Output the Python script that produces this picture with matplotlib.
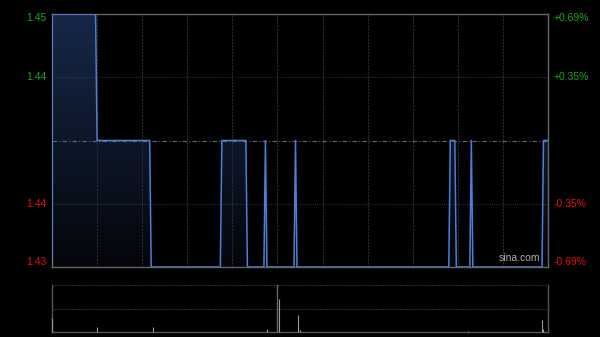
import numpy as np
import matplotlib
matplotlib.use("Agg")
import matplotlib.pyplot as plt
from matplotlib.colors import LinearSegmentedColormap

plt.rcParams['font.family'] = ['Liberation Sans', 'DejaVu Sans']

# intraday price runs: (first minute of run, price)
run_start = [0, 30, 66, 113, 130, 142, 143, 162, 163, 265, 269, 279, 280, 327]
run_price = [1.45, 1.44, 1.43, 1.44, 1.43, 1.44, 1.43, 1.44, 1.43, 1.44, 1.43, 1.44, 1.43, 1.44]
n_minutes = 331
prev_close = 1.44

# volume bars (minute, relative volume)
vol_minute = [0, 30, 67, 143, 151, 164, 165, 277, 326, 327]
vol_value = [29, 10, 10, 6, 70, 36, 5, 3, 25, 6]

left_labels = ["1.45", "1.44", "1.44", "1.43"]
left_levels = [1.45, 1.445, 1.435, 1.43]
right_labels = ["+0.69%", "+0.35%", "-0.35%", "-0.69%"]
label_colors = ["#1ea51e", "#1ea51e", "#e01010", "#e01010"]

run_len = np.diff(run_start + [n_minutes])
prices = np.repeat(run_price, run_len)
minutes = np.arange(n_minutes)

fig = plt.figure(figsize=(6, 3.37), dpi=100, facecolor="black")
ax = fig.add_axes([52/600, 1-267/337, 496/600, 253/337])
ax.set_facecolor("black")
lo, hi = 1.43, 1.45
ax.set_xlim(0, n_minutes - 1)
ax.set_ylim(lo, hi)

# gradient fill under the line
cmap = LinearSegmentedColormap.from_list("g", ["#04060a", "#162848"])
grad = np.linspace(0, 1, 256).reshape(-1, 1)
im = ax.imshow(grad, cmap=cmap, aspect="auto", origin="lower",
               extent=[0, n_minutes - 1, lo, hi], zorder=1)
poly = ax.fill_between(minutes, prices, lo, color="none", zorder=1)
im.set_clip_path(poly.get_paths()[0], transform=ax.transData)

# grid
for m in range(30, n_minutes - 1, 30):
    ax.axvline(m, color="#2c2c2c", lw=0.8, ls=(0, (2, 1)), zorder=2)
for lv in [1.445, 1.435]:
    ax.axhline(lv, color="#484848", lw=0.6, ls=(0, (1, 1.5)), zorder=2)
ax.axhline(prev_close, color="#6a6a6a", lw=0.8, ls=(0, (4, 2, 1, 2)), zorder=2)

ax.plot(minutes, prices, color="#4a80d8", lw=1.1, zorder=4)
ax.plot([0, 0], [lo, prices[0]], color="#4a80d8", lw=1.1, zorder=4)

for s in ax.spines.values():
    s.set_color("#666666")
    s.set_linewidth(1)
ax.set_xticks([])
ax.set_yticks([])

for lab, lv, c in zip(left_labels, left_levels, label_colors):
    va = "top" if lv == hi else ("bottom" if lv == lo else "center")
    off = 1 if lv == hi else 0
    ax.annotate(lab, (0, lv), xycoords=("axes fraction", "data"),
                xytext=(-4, off), textcoords="offset points",
                ha="right", va=va, color=c, fontsize=7.5)
for lab, lv, c in zip(right_labels, left_levels, label_colors):
    va = "top" if lv == hi else ("bottom" if lv == lo else "center")
    off = 1 if lv == hi else 0
    ax.annotate(lab, (1, lv), xycoords=("axes fraction", "data"),
                xytext=(4, off), textcoords="offset points",
                ha="left", va=va, color=c, fontsize=7.5)

ax.text(0.985, 0.015, "sina.com", transform=ax.transAxes, ha="right",
        va="bottom", color="#b0b0b0", fontsize=7.5, zorder=5)

# volume panel
vax = fig.add_axes([52/600, 1-332/337, 496/600, 47/337])
vax.set_facecolor("black")
vax.set_xlim(0, n_minutes - 1)
vax.set_ylim(0, 100)
vax.axhline(50, color="#4a4a4a", lw=0.7, ls=(0, (1, 1.5)))
vax.axhline(99.5, color="#4a4a4a", lw=0.7, ls=(0, (1, 1.5)))
vax.axvline(150, color="#666666", lw=1)
vax.vlines(vol_minute, 0, vol_value, color="#999999", lw=0.8,
           zorder=5, clip_on=False)
for s in vax.spines.values():
    s.set_color("#555555")
    s.set_linewidth(1)
vax.spines["top"].set_visible(False)
vax.set_xticks([])
vax.set_yticks([])

fig.savefig("out.png", dpi=100, facecolor="black")
